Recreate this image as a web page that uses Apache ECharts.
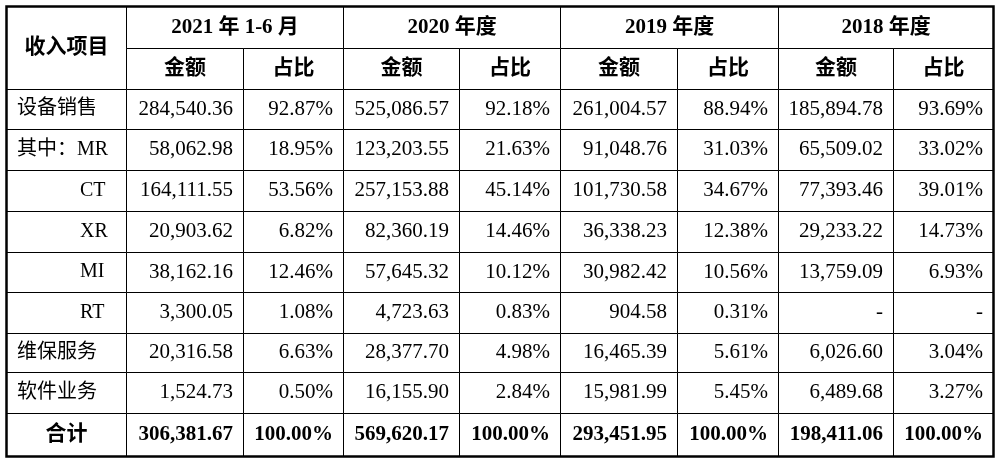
<!DOCTYPE html>
<html>
<head>
<meta charset="utf-8">
<script src="https://cdn.jsdelivr.net/npm/echarts@6/dist/echarts.min.js"></script>
<style>
  html, body { margin: 0; padding: 0; background: #fff; }
  #main { width: 1002px; height: 463px; }
</style>
</head>
<body>
<div id="main"></div>
<script>
// 表格数据
var periods = ['2021 年 1-6 月', '2020 年度', '2019 年度', '2018 年度']
var subHeads = ['金额', '占比']
var items = ['设备销售', '其中：MR', 'CT', 'XR', 'MI', 'RT', '维保服务', '软件业务', '合计']
var subItem = [false, false, true, true, true, true, false, false, false]

var amt2021 = [284540.36, 58062.98, 164111.55, 20903.62, 38162.16, 3300.05, 20316.58, 1524.73, 306381.67]
var pct2021 = [92.87, 18.95, 53.56, 6.82, 12.46, 1.08, 6.63, 0.50, 100.00]
var amt2020 = [525086.57, 123203.55, 257153.88, 82360.19, 57645.32, 4723.63, 28377.70, 16155.90, 569620.17]
var pct2020 = [92.18, 21.63, 45.14, 14.46, 10.12, 0.83, 4.98, 2.84, 100.00]
var amt2019 = [261004.57, 91048.76, 101730.58, 36338.23, 30982.42, 904.58, 16465.39, 15981.99, 293451.95]
var pct2019 = [88.94, 31.03, 34.67, 12.38, 10.56, 0.31, 5.61, 5.45, 100.00]
var amt2018 = [185894.78, 65509.02, 77393.46, 29233.22, 13759.09, null, 6026.60, 6489.68, 198411.06]
var pct2018 = [93.69, 33.02, 39.01, 14.73, 6.93, null, 3.04, 3.27, 100.00]

var amounts = [amt2021, amt2020, amt2019, amt2018]
var percents = [pct2021, pct2020, pct2019, pct2018]

var font = "'Liberation Serif', 'Noto Sans CJK SC', serif"

function fmtAmt(v) {
  if (v == null) return '-'
  return v.toLocaleString('en-US', { minimumFractionDigits: 2, maximumFractionDigits: 2 })
}
function fmtPct(v) {
  if (v == null) return '-'
  return v.toFixed(2) + '%'
}

// 列宽、行高
var colSizes = [120, 117, 100, 116, 101, 117, 101, 115, 100]
var rowSizes = [42, 41, 40, 41, 41, 41, 40, 41, 39, 41, 43]

var xData = colSizes.map(function (s, i) { return { value: 'c' + i, size: s } })
var yData = rowSizes.map(function (s, i) { return { value: 'r' + i, size: s } })

// 表头（合并单元格）
var cells = []
cells.push({ coord: [0, [0, 1]], mergeCells: true, value: '收入项目' })
periods.forEach(function (p, i) {
  cells.push({ coord: [[1 + i * 2, 2 + i * 2], 0], mergeCells: true, value: p })
  subHeads.forEach(function (s, j) {
    cells.push({ coord: [1 + i * 2 + j, 1], value: s })
  })
})
cells.push({ coord: [0, items.length + 1], value: items[items.length - 1] })

// 数据单元格文字
var textData = []
var textInfo = []
items.forEach(function (name, r) {
  var total = r === items.length - 1
  if (!total) {
    textData.push([0, r + 2])
    textInfo.push({ text: name, align: 'left', pad: subItem[r] ? 74 : 11, bold: false, size: 20 })
  }
  for (var i = 0; i < 4; i++) {
    textData.push([1 + i * 2, r + 2])
    textInfo.push({ text: fmtAmt(amounts[i][r]), align: 'right', pad: 10, bold: total, size: 21 })
    textData.push([2 + i * 2, r + 2])
    textInfo.push({ text: fmtPct(percents[i][r]), align: 'right', pad: 10, bold: total, size: 21 })
  }
})

var myChart = echarts.init(document.getElementById('main'))

var option = {
  animation: false,
  backgroundColor: '#fff',
  matrix: {
    left: 6,
    top: 6,
    width: 987,
    height: 450,
    x: { show: false, data: xData },
    y: { show: false, data: yData },
    body: {
      data: cells,
      itemStyle: { color: '#fff', borderColor: '#000', borderWidth: 1 },
      label: { color: '#000', fontSize: 21, fontWeight: 'bold', fontFamily: font }
    },
    backgroundStyle: { color: '#fff', borderColor: '#000', borderWidth: 2.5 }
  },
  series: [{
    type: 'custom',
    coordinateSystem: 'matrix',
    data: textData,
    silent: true,
    renderItem: function (params, api) {
      var lay = api.layout([api.value(0), api.value(1)])
      var rect = lay.rect || lay
      var t = textInfo[params.dataIndex]
      var x = t.align === 'right' ? rect.x + rect.width - t.pad : rect.x + t.pad
      return {
        type: 'text',
        x: x,
        y: rect.y + rect.height / 2,
        style: {
          text: t.text,
          align: t.align,
          verticalAlign: 'middle',
          fill: '#000',
          fontSize: t.size,
          fontWeight: t.bold ? 'bold' : 'normal',
          fontFamily: font
        }
      }
    }
  }]
}

myChart.setOption(option)
</script>
</body>
</html>
